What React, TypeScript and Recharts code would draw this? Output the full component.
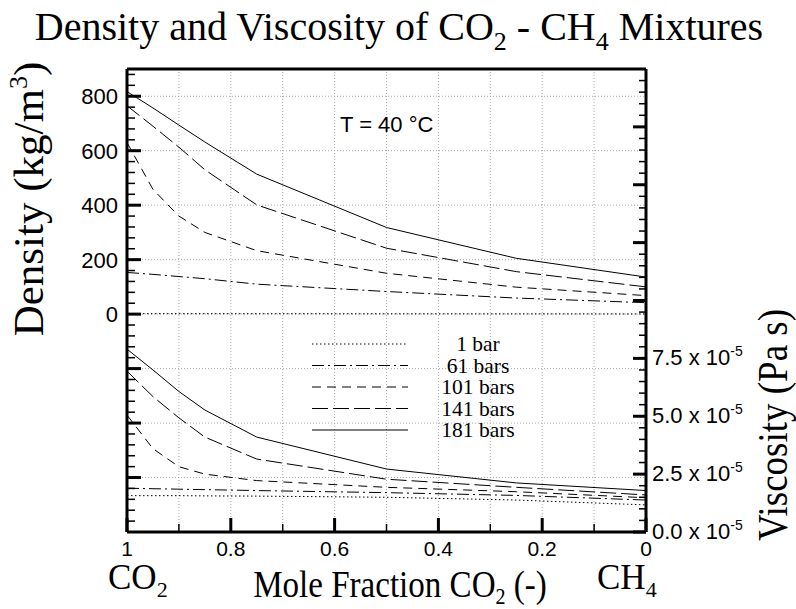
import React from 'react';
import { ComposedChart, Line, XAxis, YAxis, CartesianGrid, ReferenceLine, Legend } from 'recharts';

// mole fraction of CO2 at each computed state
const moleFraction = [1, 0.95, 0.9, 0.85, 0.75, 0.5, 0.25, 0];

// density, kg/m3
const density1 = [1.7, 1.6, 1.6, 1.5, 1.4, 1.2, 0.9, 0.6];
const density61 = [153, 146, 138, 130, 110, 83, 59, 42];
const density101 = [630, 458, 360, 300, 233, 150, 99, 68];
const density141 = [765, 690, 613, 530, 401, 242, 156, 100];
const density181 = [817, 757, 694, 632, 514, 318, 205, 136];

// viscosity, in units of 1e-5 Pa s
const visc1 = [1.57, 1.57, 1.57, 1.56, 1.55, 1.5, 1.38, 1.17];
const visc61 = [1.89, 1.87, 1.85, 1.83, 1.79, 1.7, 1.58, 1.38];
const visc101 = [5.05, 3.6, 2.82, 2.5, 2.22, 1.93, 1.74, 1.48];
const visc141 = [6.95, 5.85, 4.93, 4.1, 3.15, 2.28, 1.93, 1.6];
const visc181 = [7.9, 7.0, 6.07, 5.27, 4.1, 2.72, 2.12, 1.79];

const seriesNames = ['1 bar', '61 bars', '101 bars', '141 bars', '181 bars'];
const dashes = ['1.5 2.5', '12 4 2 4', '9 6', '16 5', undefined];
const densities = [density1, density61, density101, density141, density181];
const viscosities = [visc1, visc61, visc101, visc141, visc181];

const xTicks = [0, 0.1, 0.2, 0.3, 0.4, 0.5, 0.6, 0.7, 0.8, 0.9, 1];
const densityGrid = [-600, -400, -200, 0, 200, 400, 600, 800];
const densityTicks = Array.from({ length: 42 }, (_, i) => -760 + i * 40);
const viscTicks = Array.from({ length: 40 }, (_, i) => i * 0.5);
const viscLabels = [0, 2.5, 5, 7.5];

const serif = '"Liberation Serif", "Times New Roman", serif';
const sans = '"Liberation Sans", Arial, sans-serif';

const rows = moleFraction.map((x, i) => {
  const row: Record<string, number> = { x };
  seriesNames.forEach((_, s) => {
    row[`d${s}`] = densities[s][i];
    row[`v${s}`] = viscosities[s][i];
  });
  return row;
});

function XTick({ x, y, payload }: any) {
  const v = payload.value;
  const major = Math.round(v * 10) % 2 === 0;
  const label = v === 0 || v === 1 ? String(v) : v.toFixed(1);
  return (
    <g>
      <line x1={x} x2={x} y1={y} y2={y - (major ? 14 : 8)} stroke="#000" strokeWidth={major ? 3 : 1.5} />
      {major && (
        <text x={x} y={y + 24} textAnchor="middle" fontFamily={sans} fontSize={21} fill="#000">
          {label}
        </text>
      )}
    </g>
  );
}

function DensityTick({ x, y, payload }: any) {
  const v = payload.value;
  const major = v % 200 === 0;
  return (
    <g>
      <line x1={x} x2={x + (major ? 14 : 8)} y1={y} y2={y} stroke="#000" strokeWidth={major ? 3 : 1.5} />
      {major && v >= 0 && (
        <text x={x - 9} y={y} dy="0.36em" textAnchor="end" fontFamily={sans} fontSize={22} fill="#000">
          {v}
        </text>
      )}
    </g>
  );
}

function ViscTick({ x, y, payload }: any) {
  const v = payload.value;
  const major = Math.abs(v / 2.5 - Math.round(v / 2.5)) < 1e-6;
  return (
    <g>
      <line x1={x} x2={x - (major ? 13 : 7)} y1={y} y2={y} stroke="#000" strokeWidth={major ? 3 : 1.5} />
      {viscLabels.includes(v) && (
        <text x={x + 6} y={y} dy="0.3em" fontFamily={sans} fontSize={22} fill="#000">
          {v.toFixed(1)} x 10
          <tspan dy={-9} fontSize={14}>-5</tspan>
        </text>
      )}
    </g>
  );
}

function PressureLegend() {
  return (
    <svg width={220} height={124} style={{ overflow: 'visible' }}>
      {seriesNames.map((name, i) => {
        const cy = 14 + i * 21.5;
        return (
          <g key={name}>
            <line x1={7} x2={103} y1={cy} y2={cy} stroke="#000" strokeWidth={1} strokeDasharray={dashes[i]} />
            <text x={173} y={cy} dy="0.33em" textAnchor="middle" fontFamily={serif} fontSize={21.5} fill="#000">
              {name}
            </text>
          </g>
        );
      })}
    </svg>
  );
}

export default function App() {
  return (
    <div style={{ position: 'absolute', left: 0, top: 0, width: 796, height: 609, background: '#fff' }}>
      <ComposedChart width={796} height={609} data={rows} margin={{ top: 68, right: 0, bottom: 0, left: 0 }}>
        <CartesianGrid horizontal={false} stroke="#aaa" strokeDasharray="1 2" />
        <XAxis
          dataKey="x"
          type="number"
          domain={[0, 1]}
          reversed
          ticks={xTicks}
          interval={0}
          height={77}
          tickSize={0}
          tickMargin={0}
          tickLine={false}
          tick={<XTick />}
          axisLine={{ stroke: '#000', strokeWidth: 3 }}
        />
        <XAxis
          xAxisId="top"
          dataKey="x"
          type="number"
          domain={[0, 1]}
          reversed
          orientation="top"
          height={1}
          tick={false}
          tickLine={false}
          axisLine={{ stroke: '#000', strokeWidth: 3 }}
        />
        <YAxis
          yAxisId="density"
          type="number"
          domain={[-800, 900]}
          ticks={densityTicks}
          interval={0}
          width={127}
          tickSize={0}
          tickMargin={0}
          tickLine={false}
          tick={<DensityTick />}
          axisLine={{ stroke: '#000', strokeWidth: 3 }}
          allowDataOverflow
        />
        <YAxis
          yAxisId="visc"
          orientation="right"
          type="number"
          domain={[0, 20]}
          ticks={viscTicks}
          interval={0}
          width={150}
          tickSize={0}
          tickMargin={0}
          tickLine={false}
          tick={<ViscTick />}
          axisLine={{ stroke: '#000', strokeWidth: 3 }}
          allowDataOverflow
        />
        {densityGrid.map((d) => (
          <ReferenceLine key={d} yAxisId="density" y={d} stroke="#aaa" strokeDasharray="1 2" />
        ))}
        {seriesNames.map((name, i) => (
          <Line
            key={`d${i}`}
            yAxisId="density"
            dataKey={`d${i}`}
            name={name}
            type="linear"
            stroke="#000"
            strokeWidth={1}
            strokeDasharray={dashes[i]}
            dot={false}
            isAnimationActive={false}
          />
        ))}
        {seriesNames.map((name, i) => (
          <Line
            key={`v${i}`}
            yAxisId="visc"
            dataKey={`v${i}`}
            name={name}
            type="linear"
            stroke="#000"
            strokeWidth={1}
            strokeDasharray={dashes[i]}
            dot={false}
            legendType="none"
            isAnimationActive={false}
          />
        ))}
        <Legend
          layout="horizontal"
          verticalAlign="middle"
          align="center"
          content={() => <PressureLegend />}
          wrapperStyle={{ position: 'absolute', left: 305, top: 330, width: 220, height: 124 }}
        />
      </ComposedChart>
      <svg
        width={796}
        height={609}
        style={{ position: 'absolute', left: 0, top: 0, pointerEvents: 'none' }}
      >
        <text x={399} y={40} textAnchor="middle" fontFamily={serif} fontSize={40} fill="#000">
          Density and Viscosity of CO
          <tspan dy={10} fontSize={26}>2</tspan>
          <tspan dy={-10}> - CH</tspan>
          <tspan dy={10} fontSize={26}>4</tspan>
          <tspan dy={-10}> Mixtures</tspan>
        </text>
        <text x={340} y={132} fontFamily={sans} fontSize={22} fill="#000">
          T = 40 °C
        </text>
        <text transform="translate(43,199) rotate(-90)" textAnchor="middle" fontFamily={serif} fontSize={43} fill="#000">
          Density (kg/m
          <tspan dy={-16} fontSize={26}>3</tspan>
          <tspan dy={16}>)</tspan>
        </text>
        <text
          transform="translate(787,425) rotate(-90)"
          textAnchor="middle"
          fontFamily={serif}
          fontSize={42}
          textLength={232}
          lengthAdjust="spacingAndGlyphs"
          fill="#000"
        >
          Viscosity (Pa s)
        </text>
        <text x={108} y={589} fontFamily={serif} fontSize={35} fill="#000">
          CO
          <tspan dy={8} fontSize={22}>2</tspan>
        </text>
        <text x={597} y={589} fontFamily={serif} fontSize={35} fill="#000">
          CH
          <tspan dy={8} fontSize={22}>4</tspan>
        </text>
        <text transform="translate(400,597) scale(0.87,1)" textAnchor="middle" fontFamily={serif} fontSize={38} fill="#000">
          Mole Fraction CO
          <tspan dy={7} fontSize={23}>2</tspan>
          <tspan dy={-7}> (-)</tspan>
        </text>
      </svg>
    </div>
  );
}
